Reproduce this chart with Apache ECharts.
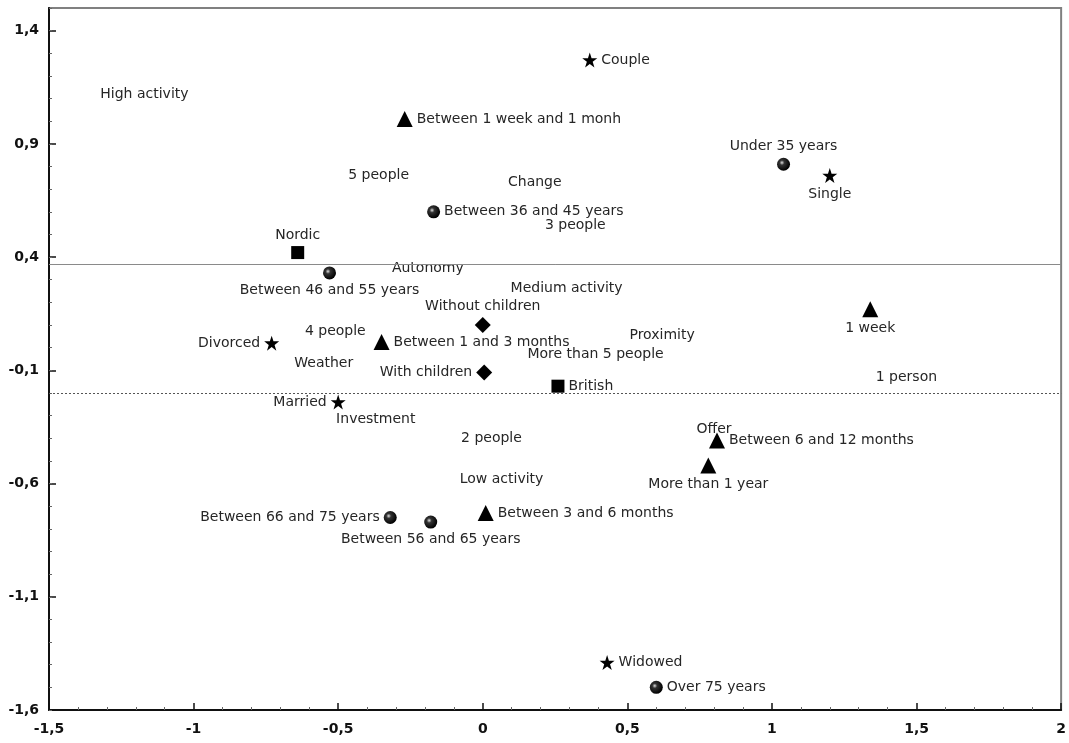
<!DOCTYPE html>
<html>
<head>
<meta charset="utf-8">
<script src="https://cdn.jsdelivr.net/npm/echarts@6/dist/echarts.min.js"></script>
<style>
html,body{margin:0;padding:0;background:#fff;}
#chart{width:1069px;height:743px;}
</style>
</head>
<body>
<div id="chart"></div>
<script>
// ---- data: [label, x, y] ----
const starPoints = [
  ["Couple", 0.37, 1.27],
  ["Single", 1.20, 0.76],
  ["Divorced", -0.73, 0.02],
  ["Married", -0.50, -0.24],
  ["Widowed", 0.43, -1.39]
];
const trianglePoints = [
  ["Between 1 week and 1 monh", -0.27, 1.01],
  ["1 week", 1.34, 0.17],
  ["Between 1 and 3 months", -0.35, 0.025],
  ["Between 6 and 12 months", 0.81, -0.41],
  ["More than 1 year", 0.78, -0.52],
  ["Between 3 and 6 months", 0.01, -0.73]
];
const circlePoints = [
  ["Under 35 years", 1.04, 0.81],
  ["Between 36 and 45 years", -0.17, 0.60],
  ["Between 46 and 55 years", -0.53, 0.33],
  ["Between 66 and 75 years", -0.32, -0.75],
  ["Between 56 and 65 years", -0.18, -0.77],
  ["Over 75 years", 0.60, -1.50]
];
const squarePoints = [
  ["Nordic", -0.64, 0.42],
  ["British", 0.26, -0.17]
];
const diamondPoints = [
  ["Without children", 0.00, 0.10],
  ["With children", 0.005, -0.11]
];
const textPoints = [
  ["High activity", -1.17, 1.12],
  ["5 people", -0.36, 0.76],
  ["Change", 0.18, 0.73],
  ["3 people", 0.32, 0.54],
  ["Autonomy", -0.19, 0.35],
  ["Medium activity", 0.29, 0.26],
  ["4 people", -0.51, 0.07],
  ["Proximity", 0.62, 0.055],
  ["Weather", -0.55, -0.07],
  ["More than 5 people", 0.39, -0.03],
  ["1 person", 1.465, -0.13],
  ["Investment", -0.37, -0.315],
  ["Offer", 0.80, -0.36],
  ["2 people", 0.03, -0.40],
  ["Low activity", 0.065, -0.58]
];
const refLines = [0.37, -0.20];
const xTicks = { min: -1.5, max: 2, step: 0.5 };
const yTicks = { min: -1.6, max: 1.5, step: 0.5 };

// ---- label placement (style) ----
const labelSide = {
  "Couple": "right", "Single": "bottom", "Divorced": "left", "Married": "left", "Widowed": "right",
  "Between 1 week and 1 monh": "right", "1 week": "bottom", "Between 1 and 3 months": "right",
  "Between 6 and 12 months": "right", "More than 1 year": "bottom", "Between 3 and 6 months": "right",
  "Under 35 years": "top", "Between 36 and 45 years": "right", "Between 46 and 55 years": "bottom",
  "Between 66 and 75 years": "left", "Between 56 and 65 years": "bottom", "Over 75 years": "right",
  "Nordic": "top", "British": "right", "Without children": "top", "With children": "left"
};

const labelFont = { fontFamily: "DejaVu Sans", fontSize: 14, color: "#262626" };
const STAR = "path://M50,0 L61.8,35.5 L99,35.5 L69,57.5 L80.5,93 L50,71 L19.5,93 L31,57.5 L1,35.5 L38.2,35.5 Z";

function mk(points) {
  return points.map(p => ({
    name: p[0], value: [p[1], p[2]],
    label: { position: labelSide[p[0]] || "right" }
  }));
}
function markerSeries(points, symbol, size, color) {
  return {
    type: "scatter", xAxisIndex: 0, yAxisIndex: 0,
    symbol: symbol, symbolSize: size,
    itemStyle: { color: color, opacity: 1 },
    label: Object.assign({ show: true, distance: 4, formatter: "{b}" }, labelFont),
    data: mk(points), z: 5
  };
}
const ballColor = {
  type: "radial", x: 0.38, y: 0.38, r: 0.62,
  colorStops: [{ offset: 0, color: "#e0e0e0" }, { offset: 0.3, color: "#333" }, { offset: 1, color: "#000" }]
};
const fmt = v => String(Math.round(v * 10) / 10).replace(".", ",");

const chart = echarts.init(document.getElementById("chart"), null, { renderer: "canvas" });
chart.setOption({
  animation: false,
  backgroundColor: "#fff",
  grid: { left: 49, top: 8, right: 7, bottom: 33, show: true, borderColor: "#808080", borderWidth: 2, backgroundColor: "transparent" },
  xAxis: [{
    type: "value", min: xTicks.min, max: xTicks.max, interval: xTicks.step,
    axisLine: { show: true, onZero: false, lineStyle: { color: "#111", width: 2 } },
    axisTick: { show: true, inside: true, length: 7, lineStyle: { color: "#111", width: 1.5 } },
    minorTick: { show: true, splitNumber: 5, length: 3, lineStyle: { color: "#666" } },
    splitLine: { show: false },
    axisLabel: { margin: 12, formatter: fmt, fontFamily: "DejaVu Sans", fontWeight: "bold", fontSize: 14, color: "#111" }
  }],
  yAxis: [{
    type: "value", min: yTicks.min, max: yTicks.max, interval: yTicks.step,
    axisLine: { show: true, onZero: false, lineStyle: { color: "#111", width: 2 } },
    axisTick: { show: true, inside: true, length: 7, lineStyle: { color: "#111", width: 1.5 } },
    splitLine: { show: false },
    axisLabel: { margin: 10, showMaxLabel: false, formatter: fmt, fontFamily: "DejaVu Sans", fontWeight: "bold", fontSize: 14, color: "#111" }
  }, {
    type: "value", position: "left", min: yTicks.min, max: yTicks.max, interval: yTicks.step / 5,
    axisLine: { show: false, onZero: false },
    axisTick: { show: true, inside: true, length: 3, lineStyle: { color: "#666" } },
    splitLine: { show: false },
    axisLabel: { show: false }
  }],
  series: [
    markerSeries(starPoints, STAR, 15, "#000"),
    markerSeries(trianglePoints, "triangle", 16, "#000"),
    markerSeries(circlePoints, "circle", 13, ballColor),
    markerSeries(squarePoints, "rect", 13, "#000"),
    markerSeries(diamondPoints, "diamond", 16, "#000"),
    {
      type: "scatter", symbolSize: 0,
      itemStyle: { opacity: 1 },
      label: Object.assign({ show: true, position: "inside", formatter: "{b}" }, labelFont),
      data: textPoints.map(p => ({ name: p[0], value: [p[1], p[2]] })),
      markLine: {
        silent: true, symbol: "none", label: { show: false },
        data: [
          { yAxis: refLines[0], lineStyle: { color: "#8a8a8a", width: 1, type: "solid" } },
          { yAxis: refLines[1], lineStyle: { color: "#555", width: 1, type: [2, 2] } }
        ]
      }
    }
  ]
});
</script>
</body>
</html>
